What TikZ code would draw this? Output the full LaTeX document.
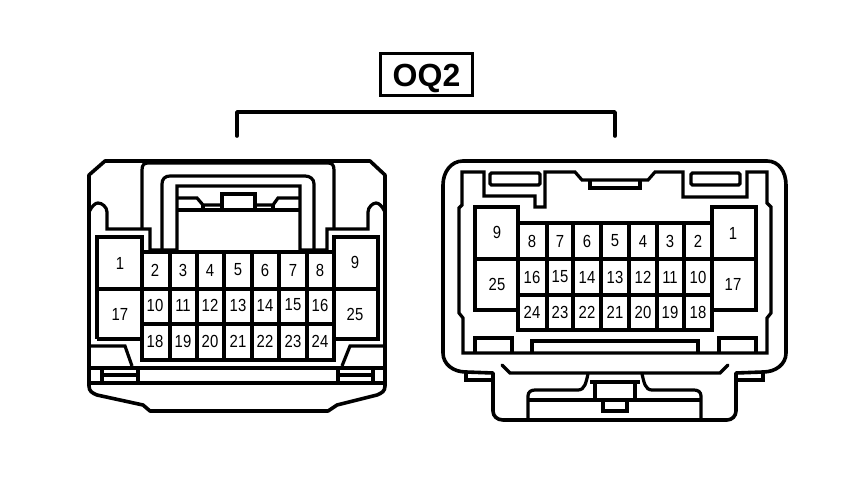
\documentclass[tikz,border=0pt]{standalone}
\usepackage{fontspec}
\setmainfont[FakeStretch=0.85]{Liberation Sans}
\newfontfamily\titlefont[FakeStretch=1.0]{Liberation Sans}
\usetikzlibrary{positioning}

\begin{document}
\begin{tikzpicture}[
    x=1pt, y=-1pt,
    wire/.style={draw=black, line width=3.2pt, line join=miter, line cap=butt},
    outline/.style={draw=black, line width=3.6pt, line join=round, line cap=round},
    pinlabel/.style={inner sep=0pt, text=black, font=\fontsize{17.5}{18}\selectfont},
    titlebox/.style={draw=black, line width=3.8pt, minimum width=92pt, minimum height=42pt, inner sep=0pt, text height=25pt, text depth=0pt, font=\titlefont\bfseries\fontsize{32}{32}\selectfont}
]
    \useasboundingbox (0,0) rectangle (864,486);

    % Title and bracket
    \node (title) [titlebox] at (426.5,74.5) {OQ2};
    \coordinate (leftfoot) at (237,136);
    \coordinate (rightfoot) at (615,136);
    \draw [outline] (leftfoot) -- (237,112) -- (615,112) -- (rightfoot);

    % Left connector: shell
    \draw [outline] (105,161) -- (370,161) -- (385,175) -- (385,386)
        .. controls (385,391) and (382,393) .. (377,395) -- (337,405) -- (328,411)
        -- (150,411) -- (143,405) -- (97,395)
        .. controls (92,393) and (89,391) .. (89,386) -- (89,175) -- cycle;
    \draw [wire] (89,212) .. controls (92,206) and (95,203) .. (98,203)
        .. controls (102,203) and (107,207) .. (107,212) -- (107,229) -- (150,229) -- (150,250)
        -- (177,250) -- (177,186) -- (300,186) -- (300,250) -- (327,250) -- (327,229)
        -- (368,229) -- (368,212) .. controls (368,207) and (373,203) .. (376,203)
        .. controls (379,203) and (382,206) .. (385,212);
    \draw [wire] (142,229) -- (142,170) .. controls (142,165) and (144,163) .. (148,163)
        -- (328,163) .. controls (332,163) and (334,165) .. (334,170) -- (334,229);
    \draw [wire] (162,250) -- (162,184) .. controls (162,179) and (165,176) .. (170,176)
        -- (305,176) .. controls (310,176) and (314,179) .. (314,184) -- (314,250);
    % Left connector: latch
    \draw [wire] (177,198) -- (197,198) -- (203,205) -- (222,205);
    \draw [wire] (300,198) -- (278,198) -- (273,205) -- (255,205);
    \draw [wire] (222,210) -- (222,194) -- (255,194) -- (255,210);
    \draw [wire] (177,210) -- (300,210);
    \draw [wire] (203,205) -- (203,210);
    \draw [wire] (273,205) -- (273,210);
    % Left connector: pin grid
    \draw [wire] (97,339) -- (97,237) -- (142,237) -- (142,360) -- (334,360) -- (334,237) -- (378,237) -- (378,339) -- (334,339);
    \draw [wire] (97,339) -- (142,339);
    \draw [wire] (142,252) -- (334,252);
    \draw [wire] (97,289) -- (378,289);
    \draw [wire] (142,324) -- (334,324);
    \foreach \gridx in {170,197,224,252,279,307} {
        \draw [wire] (\gridx,252) -- (\gridx,360);
    }
    % Left connector: foot
    \draw [wire] (89,346) -- (125,346) -- (132,366);
    \draw [wire] (385,346) -- (350,346) -- (342,366);
    \draw [wire] (89,368) -- (385,368);
    \draw [wire] (89,383) -- (385,383);
    \draw [wire] (102,368) -- (102,383);
    \draw [wire] (138,368) -- (138,383);
    \draw [wire] (102,375) -- (138,375);
    \draw [wire] (338,368) -- (338,383);
    \draw [wire] (373,368) -- (373,383);
    \draw [wire] (338,375) -- (373,375);

    % Right connector: shell
    \draw [outline] (463,161) -- (767,161) .. controls (779,161) and (786,172) .. (786,185)
        -- (786,353) .. controls (786,364) and (776,372) .. (763,372) -- (736,373)
        -- (736,411) .. controls (736,416) and (732,420) .. (727,420)
        -- (503,420) .. controls (497,420) and (493,416) .. (493,411) -- (493,373)
        -- (466,372) .. controls (453,372) and (443,364) .. (443,353)
        -- (443,185) .. controls (443,172) and (451,161) .. (463,161) -- cycle;
    \draw [wire] (466,372) -- (466,380) -- (493,380);
    \draw [wire] (736,380) -- (763,380) -- (763,372);
    % Right connector: inner frame
    \draw [wire] (463,353) -- (463,318) -- (459,313) -- (459,208) -- (462,205) -- (462,172)
        -- (484,172) -- (484,196) -- (535,196) -- (535,207) -- (545,207) -- (545,172)
        -- (575,172) -- (582,180) -- (648,180) -- (655,172) -- (683,172) -- (683,197)
        -- (747,197) -- (747,172) -- (767,172) -- (767,203) -- (771,207) -- (771,313)
        -- (767,318) -- (767,353) -- cycle;
    \draw [wire, rounded corners=1.5pt] (490,173) -- (490,185) -- (540,185) -- (540,173) -- cycle;
    \draw [wire, rounded corners=1.5pt] (691,173) -- (691,185) -- (740,185) -- (740,173) -- cycle;
    \draw [wire] (590,180) -- (590,188) -- (640,188) -- (640,180);
    % Right connector: pin grid
    \draw [wire] (518,310) -- (475,310) -- (475,207) -- (518,207) -- (518,330) -- (712,330) -- (712,207) -- (756,207) -- (756,310) -- (712,310);
    \draw [wire] (518,223) -- (712,223);
    \draw [wire] (475,259) -- (756,259);
    \draw [wire] (518,295) -- (712,295);
    \foreach \gridx in {547,573,601,629,657,684} {
        \draw [wire] (\gridx,223) -- (\gridx,330);
    }
    % Right connector: lower slots
    \draw [wire] (475,353) -- (475,338) -- (512,338) -- (512,353);
    \draw [wire] (532,353) -- (532,341) -- (698,341) -- (698,353);
    \draw [wire] (719,353) -- (719,338) -- (756,338) -- (756,353);
    % Right connector: lock
    \draw [wire, line cap=round] (502,365) -- (510,373) -- (720,373) -- (728,365);
    \draw [wire] (588,374) .. controls (586,382) and (585,390) .. (578,390) -- (535,390)
        .. controls (531,390) and (528,392) .. (528,396) -- (528,420);
    \draw [wire] (642,374) .. controls (644,382) and (645,390) .. (652,390) -- (694,390)
        .. controls (698,390) and (701,392) .. (701,396) -- (701,420);
    \draw [wire] (528,400) -- (701,400);
    \draw [wire] (590,382) -- (640,382);
    \draw [wire] (595,382) -- (595,400);
    \draw [wire] (635,382) -- (635,400);
    \draw [wire] (603,400) -- (603,411) -- (627,411) -- (627,400);

    % Pin numbers
    \node (lpina) [pinlabel] at (120,263) {1};
    \node (lpinb) [pinlabel] at (355,262) {9};
    \node (lpinc) [pinlabel] at (120,314) {17};
    \node (lpind) [pinlabel] at (355,314) {25};
    \foreach \pinx/\pinn [count=\pinc] in {155/2,183/3,210/4,238/5,265/6,293/7,320/8} {
        \node (ltop\pinc) [pinlabel] at (\pinx,270) {\pinn};
    }
    \foreach \pinx/\pinn [count=\pinc] in {155/10,183/11,210/12,238/13,265/14,293/15,320/16} {
        \node (lmid\pinc) [pinlabel] at (\pinx,305) {\pinn};
    }
    \foreach \pinx/\pinn [count=\pinc] in {155/18,183/19,210/20,238/21,265/22,293/23,320/24} {
        \node (llow\pinc) [pinlabel] at (\pinx,341) {\pinn};
    }
    \node (rpina) [pinlabel] at (497,232) {9};
    \node (rpinb) [pinlabel] at (733,233) {1};
    \node (rpinc) [pinlabel] at (497,284) {25};
    \node (rpind) [pinlabel] at (733,284) {17};
    \foreach \pinx/\pinn [count=\pinc] in {532/8,560/7,587/6,615/5,643/4,670/3,698/2} {
        \node (rtop\pinc) [pinlabel] at (\pinx,241) {\pinn};
    }
    \foreach \pinx/\pinn [count=\pinc] in {532/16,560/15,587/14,615/13,643/12,670/11,698/10} {
        \node (rmid\pinc) [pinlabel] at (\pinx,277) {\pinn};
    }
    \foreach \pinx/\pinn [count=\pinc] in {532/24,560/23,587/22,615/21,643/20,670/19,698/18} {
        \node (rlow\pinc) [pinlabel] at (\pinx,312) {\pinn};
    }
\end{tikzpicture}
\end{document}
